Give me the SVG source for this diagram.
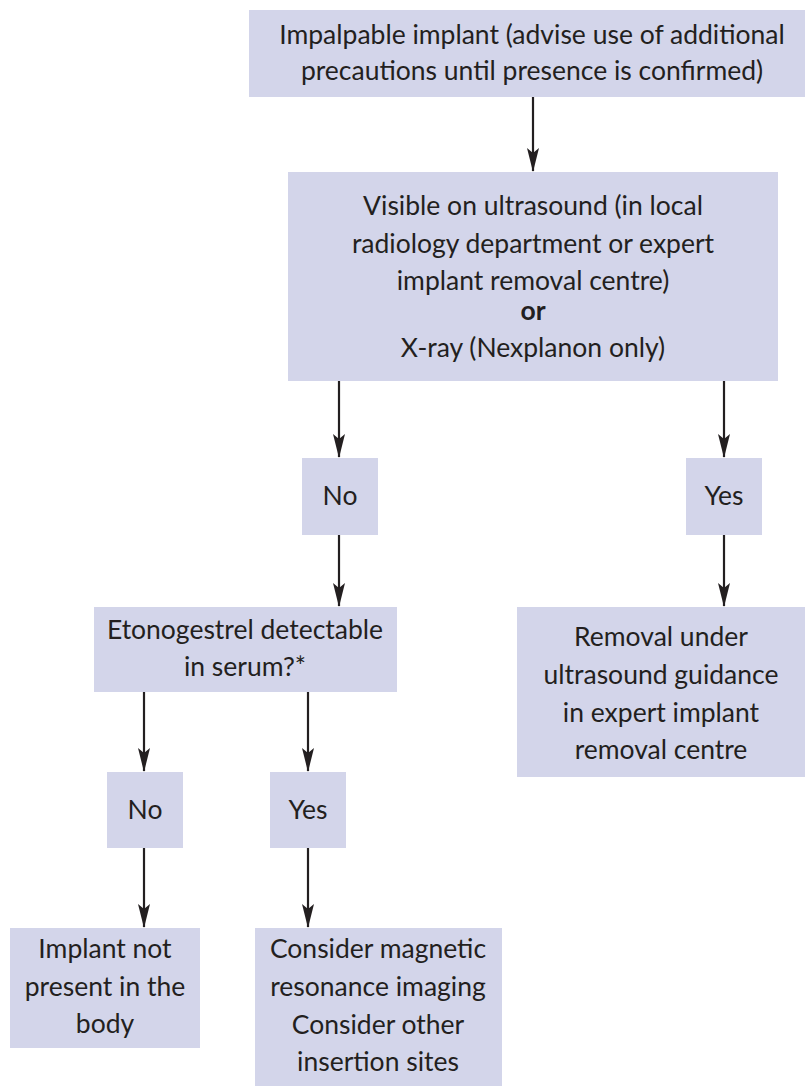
<svg xmlns="http://www.w3.org/2000/svg" width="805" height="1086" viewBox="0 0 805 1086">
<defs>
<style>
.box{fill:#d3d5ea;}
text{font-family:Lato,"Open Sans","Liberation Sans",sans-serif;font-size:26.5px;fill:#231f20;text-anchor:middle;}
.b{font-weight:bold;}
.conn line{stroke:#231f20;stroke-width:2.2;marker-end:url(#ah);}
</style>
<marker id="ah" viewBox="0 0 24 12" refX="23" refY="6" markerWidth="24" markerHeight="12" markerUnits="userSpaceOnUse" orient="auto">
<path d="M0,0 L24,6 L0,12 L5,6 Z" fill="#231f20"/>
</marker>
</defs>
<rect width="805" height="1086" fill="#ffffff"/>
<g class="conn">
<line x1="533" y1="97" x2="533" y2="171"/>
<line x1="339" y1="381" x2="339" y2="457"/>
<line x1="724" y1="381" x2="724" y2="457"/>
<line x1="339" y1="535" x2="339" y2="606"/>
<line x1="724" y1="535" x2="724" y2="606"/>
<line x1="144" y1="692" x2="144" y2="771"/>
<line x1="308" y1="692" x2="308" y2="771"/>
<line x1="144" y1="848" x2="144" y2="927"/>
<line x1="308" y1="848" x2="308" y2="927"/>
</g>
<g id="n-impalpable">
<rect class="box" x="249" y="10" width="556" height="87"/>
<text x="532" y="44">Impalpable implant (advise use of additional</text>
<text x="532" y="80">precautions until presence is confirmed)</text>
</g>
<g id="n-visible">
<rect class="box" x="288" y="172" width="490" height="209"/>
<text x="533" y="215">Visible on ultrasound (in local</text>
<text x="533" y="253">radiology department or expert</text>
<text x="533" y="290">implant removal centre)</text>
<text class="b" x="533" y="320">or</text>
<text x="533" y="357">X-ray (Nexplanon only)</text>
</g>
<g id="n-no1">
<rect class="box" x="302" y="458" width="76" height="77"/>
<text x="340" y="505">No</text>
</g>
<g id="n-yes1">
<rect class="box" x="686" y="458" width="76" height="77"/>
<text x="724" y="505">Yes</text>
</g>
<g id="n-etonogestrel">
<rect class="box" x="94" y="607" width="303" height="85"/>
<text x="245" y="639">Etonogestrel detectable</text>
<text x="245" y="676">in serum?*</text>
</g>
<g id="n-removal">
<rect class="box" x="517" y="607" width="288" height="170"/>
<text x="661" y="646">Removal under</text>
<text x="661" y="684">ultrasound guidance</text>
<text x="661" y="722">in expert implant</text>
<text x="661" y="759">removal centre</text>
</g>
<g id="n-no2">
<rect class="box" x="107" y="772" width="76" height="76"/>
<text x="145" y="819">No</text>
</g>
<g id="n-yes2">
<rect class="box" x="270" y="772" width="76" height="76"/>
<text x="308" y="819">Yes</text>
</g>
<g id="n-notpresent">
<rect class="box" x="10" y="928" width="190" height="120"/>
<text x="105" y="958">Implant not</text>
<text x="105" y="996">present in the</text>
<text x="105" y="1033">body</text>
</g>
<g id="n-consider">
<rect class="box" x="255" y="928" width="247" height="158"/>
<text x="378" y="958">Consider magnetic</text>
<text x="378" y="996">resonance imaging</text>
<text x="378" y="1034">Consider other</text>
<text x="378" y="1071">insertion sites</text>
</g>
</svg>
